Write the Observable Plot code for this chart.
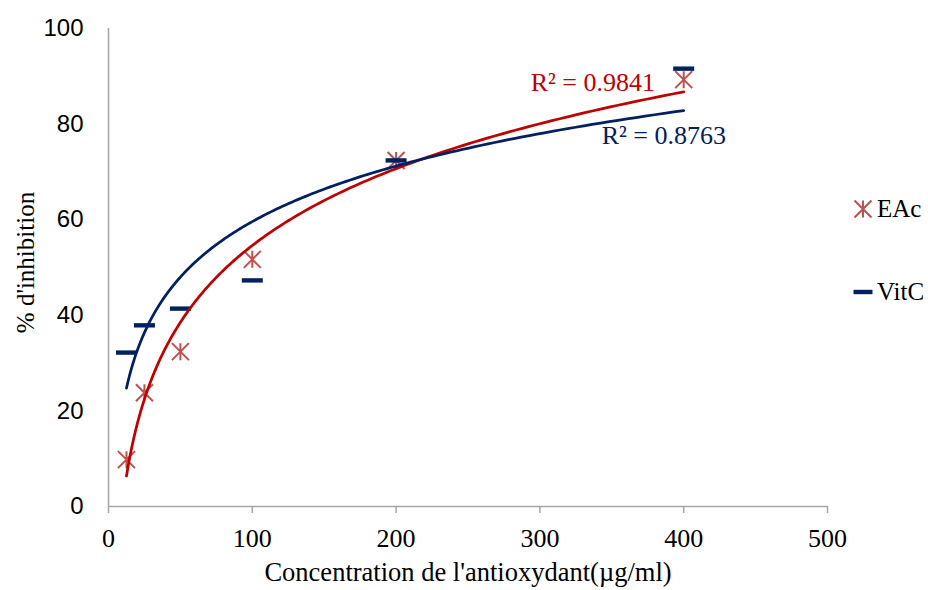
<!DOCTYPE html>
<html><head><meta charset="utf-8">
<script src="https://cdn.jsdelivr.net/npm/d3@7"></script>
<script src="https://cdn.jsdelivr.net/npm/@observablehq/plot@0.6"></script>
<style>
body{margin:0;background:#fff}
#wrap{position:relative;width:928px;height:590px}
.leg{position:absolute;font-family:"Liberation Serif","Times New Roman",serif;font-size:25px;color:#000;display:flex;align-items:center;line-height:1}
.leg svg{margin-right:3px}
</style></head><body><div id="wrap"></div>
<script>
// ---- data ----
const concentrations = [12.5, 25, 50, 100, 200, 400];
const eacValues = [9.8, 23.8, 32.4, 51.7, 72.4, 89.3];
const vitcValues = [32.2, 37.9, 41.4, 47.3, 72.4, 91.6];
const seriesNames = ["EAc", "VitC"];
const r2Labels = ["R² = 0.9841", "R² = 0.8763"];
const r2LabelX = [380, 343];
const r2LabelY = [88.6, 77.6];
const xTicks = [0, 100, 200, 300, 400, 500];
const yTicks = [0, 20, 40, 60, 80, 100];
const xTitle = "Concentration de l'antioxydant(µg/ml)";
const yTitle = "% d'inhibition";

const red = "#C00000", navy = "#002060", starColor = "#C0504D", gray = "#a6a6a6";

// logarithmic trend line (least squares on ln x), as Excel does
function logFit(xs, ys) {
  const lx = xs.map(Math.log);
  const mx = d3.mean(lx), my = d3.mean(ys);
  const a = d3.sum(lx, (v, i) => (v - mx) * (ys[i] - my)) / d3.sum(lx, v => (v - mx) ** 2);
  return {a, b: my - a * mx};
}
function trend(xs, ys, series) {
  const {a, b} = logFit(xs, ys);
  const x0 = d3.min(xs), x1 = d3.max(xs), n = 200;
  return d3.range(n + 1).map(i => {
    const x = x0 * Math.pow(x1 / x0, i / n);
    return {x, y: a * Math.log(x) + b, series};
  });
}
const trendData = [
  ...trend(concentrations, eacValues, seriesNames[0]),
  ...trend(concentrations, vitcValues, seriesNames[1])
];
const eacPts = concentrations.map((x, i) => ({x, y: eacValues[i]}));
const vitcPts = concentrations.map((x, i) => ({x, y: vitcValues[i]}));

const starSymbol = {
  draw(ctx, size) {
    const r = Math.sqrt(size / Math.PI);
    ctx.moveTo(0, -r); ctx.lineTo(0, r);
    ctx.moveTo(-r, -r); ctx.lineTo(r, r);
    ctx.moveTo(-r, r); ctx.lineTo(r, -r);
  }
};
const dashSymbol = {
  draw(ctx, size) {
    const r = Math.sqrt(size / Math.PI);
    ctx.rect(-r, -2.2, 2 * r, 4.4);
  }
};

const chart = Plot.plot({
  width: 928, height: 590,
  marginLeft: 108, marginRight: 101, marginTop: 28, marginBottom: 84,
  x: {domain: [0, 500]},
  y: {domain: [0, 100]},
  marks: [
    Plot.ruleY([0], {stroke: gray, strokeWidth: 1.5}),
    Plot.ruleX([0], {stroke: gray, strokeWidth: 1.5}),
    Plot.axisX({ticks: xTicks, tickSize: 7, stroke: gray, strokeWidth: 1.5, tickFormat: () => "", label: null}),
    Plot.text(xTicks, {x: d => d, text: d => String(d), frameAnchor: "bottom", lineAnchor: "top", dy: 22.5,
      fontFamily: "Liberation Serif", fontSize: 26, fill: "black"}),
    Plot.axisY({ticks: yTicks, tickSize: 0, tickPadding: 25, fill: "black",
      fontFamily: "Liberation Sans", fontSize: 24, label: null}),
    Plot.text([xTitle], {text: d => d, frameAnchor: "bottom", dy: 66, lineAnchor: "middle", textAnchor: "middle",
      fontFamily: "Liberation Serif", fontSize: 26.5, fill: "black"}),
    Plot.text([yTitle], {text: d => d, frameAnchor: "left", dx: -83, dy: -5, rotate: -90, lineAnchor: "middle",
      textAnchor: "middle", fontFamily: "Liberation Serif", fontSize: 25, fill: "black"}),
    Plot.dot(eacPts, {x: "x", y: "y", symbol: starSymbol, r: 8.5, stroke: starColor, strokeWidth: 2, fill: "none"}),
    Plot.dot(vitcPts, {x: "x", y: "y", symbol: dashSymbol, r: 10.5, fill: navy, stroke: "none"}),
    Plot.line(trendData, {x: "x", y: "y", z: "series",
      stroke: d => d.series === seriesNames[0] ? red : navy, strokeWidth: 2.75, curve: "linear"}),
    Plot.text([0], {x: () => r2LabelX[0], y: () => r2LabelY[0], text: () => r2Labels[0], textAnchor: "end",
      lineAnchor: "middle", fill: red, fontFamily: "Liberation Serif", fontSize: 26}),
    Plot.text([1], {x: () => r2LabelX[1], y: () => r2LabelY[1], text: () => r2Labels[1], textAnchor: "start",
      lineAnchor: "middle", fill: navy, fontFamily: "Liberation Serif", fontSize: 26})
  ]
});
const wrap = document.getElementById("wrap");
wrap.appendChild(chart);

// legend
function addLegend(name, swatch, top) {
  const d = document.createElement("div");
  d.className = "leg";
  d.style.left = "852px";
  d.style.top = top + "px";
  d.innerHTML = swatch + "<span>" + name + "</span>";
  wrap.appendChild(d);
}
addLegend(seriesNames[0],
  `<svg width="22" height="20" viewBox="-11 -10 22 20"><path d="M0,-8.5V8.5M-8.5,-8.5L8.5,8.5M-8.5,8.5L8.5,-8.5" stroke="${starColor}" stroke-width="2" fill="none"/></svg>`, 196);
addLegend(seriesNames[1],
  `<svg width="22" height="20" viewBox="-11 -10 22 20"><rect x="-9.5" y="-2.2" width="19" height="4.4" fill="${navy}"/></svg>`, 279);
</script></body></html>
